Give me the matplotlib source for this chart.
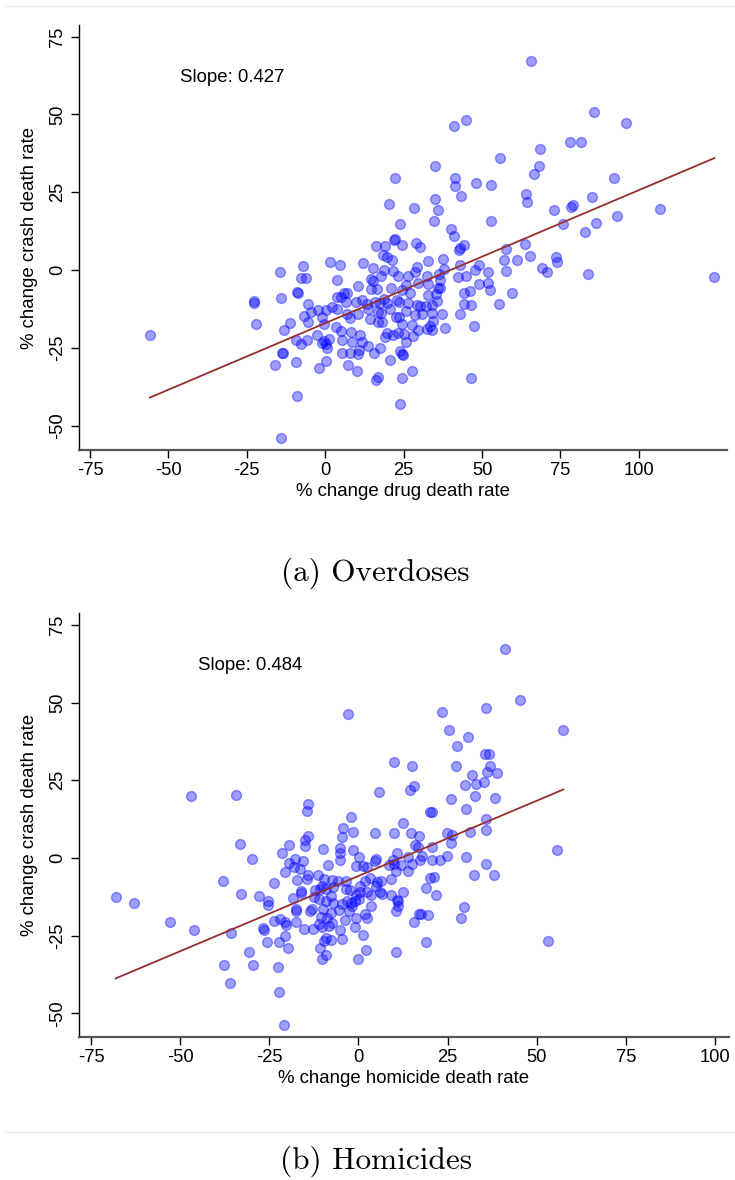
import numpy as np
import matplotlib
matplotlib.use("Agg")
from matplotlib import pyplot as plt
from matplotlib.lines import Line2D

# panel (a): % change drug death rate vs % change crash death rate
drug_x = [65.5, 85.6, 44.8, 41.1, 95.8, 78.0, 81.6, 68.4, 55.6, 68.1, 35.1, 66.7, 22.2, 41.5, 48.1, 53.0,
          41.5, 92.1, 43.3, 64.1, 64.4, 35.1, 85.2, 20.4, 28.2, 35.9, 73.0, 78.5, 78.9, 106.6, 93.1, 34.7,
          52.8, 23.9, 75.9, 86.4, 40.2, 41.0, 82.7, 21.9, 22.3, 28.9, 30.1, 16.3, 19.0, 24.5, 42.5, 43.0,
          44.2, 57.8, 63.6, 18.4, 19.8, 21.2, 32.8, 37.4, 12.1, 1.6, 4.8, -7.1, 43.1, 49.1, 56.9, 61.3,
          65.3, 73.5, 73.9, -14.5, 15.1, 18.8, 21.5, 29.3, 37.9, 47.6, 52.0, 57.5, 69.1, 70.7, 83.7, 124.1,
          -7.8, -6.2, 3.9, 14.5, 15.3, 17.7, 23.1, 26.3, 28.5, 32.3, 36.2, 42.2, 44.9, 49.1, 52.0, 25.8,
          29.6, 32.8, 36.6, 36.0, 10.3, 5.9, 6.9, 14.7, 16.4, 21.1, 24.5, 26.9, 32.9, 35.2, 36.6, 52.6,
          59.4, 44.1, 46.2, -9.0, -8.6, -14.2, 3.8, 5.0, 6.6, 9.7, 11.7, 13.3, 15.9, 17.6, 18.8, 19.8,
          22.8, 23.4, 26.3, 29.4, 30.1, 32.0, 34.0, 35.8, 44.4, 46.4, 55.4, -22.6, -22.6, -5.6, -4.4, -2.4,
          0.1, 2.3, 3.8, 7.0, 7.8, 10.5, 13.7, 16.7, 17.7, 20.8, 25.8, 28.5, 30.8, 33.9, 34.3, 37.1,
          43.0, -6.9, -5.5, -0.5, -1.1, 3.6, 5.0, 8.3, 11.0, 14.4, 16.8, 18.0, 22.7, 24.5, 23.5, 27.8,
          29.7, 32.3, 33.3, 34.0, 38.3, 47.3, -22.2, -11.3, -13.0, -2.7, 1.3, -0.3, -1.1, 0.4, 0.5, -7.8,
          -9.4, -5.8, 5.5, 8.7, 11.6, 13.7, 17.5, 19.0, 19.8, 21.5, 23.1, 25.0, 25.9, 28.1, 5.4, 7.9,
          10.5, 10.8, 15.6, 20.8, 23.9, 24.5, 24.7, -13.8, -13.6, -9.3, -16.1, -1.9, 0.3, 7.3, 10.1, 16.8,
          16.3, 24.5, 27.6, 46.4, -8.9, 23.8, -14.0, -55.9]
crash_a = [67.1, 50.7, 48.3, 46.3, 47.1, 41.0, 41.3, 39.0, 35.9, 33.5, 33.5, 31.0, 29.5, 29.7, 28.1, 27.2,
           26.9, 29.7, 23.8, 24.4, 22.0, 23.0, 23.5, 21.2, 20.0, 19.2, 19.2, 20.4, 21.0, 19.8, 17.4, 15.9,
           15.7, 14.8, 14.9, 15.3, 13.3, 11.0, 12.2, 9.7, 10.1, 8.6, 7.3, 7.9, 7.9, 8.0, 6.6, 7.0,
           8.0, 6.9, 8.4, 4.9, 4.3, 3.3, 2.9, 3.7, 2.2, 2.5, 1.6, 1.4, 1.8, 1.7, 3.4, 3.3,
           4.5, 4.1, 2.5, -0.5, 0.6, 0.1, -0.4, 0.9, 0.4, 0.0, -0.6, -0.3, 0.7, -0.5, -1.2, -2.2,
           -2.6, -2.4, -3.1, -2.7, -3.6, -2.0, -2.0, -1.9, -0.6, -1.8, -1.3, -2.1, -1.7, -4.3, -4.2, -4.7,
           -4.2, -4.3, -3.1, -5.8, -5.0, -7.4, -7.4, -6.1, -5.9, -5.6, -6.5, -7.4, -8.0, -7.6, -5.6, -6.5,
           -7.3, -7.4, -6.7, -6.9, -7.2, -8.8, -8.7, -8.7, -10.1, -10.3, -9.7, -10.9, -10.1, -10.6, -9.3, -10.6,
           -9.6, -10.1, -10.4, -11.2, -11.4, -11.6, -11.1, -10.0, -10.9, -11.1, -10.9, -10.0, -10.6, -11.0, -13.4, -12.7,
           -12.7, -11.7, -12.5, -14.2, -15.2, -14.1, -12.5, -13.4, -13.6, -12.4, -13.0, -14.5, -14.1, -13.8, -16.2, -14.1,
           -14.2, -14.7, -16.6, -17.2, -14.9, -18.3, -19.6, -19.7, -20.7, -15.7, -16.5, -16.7, -14.9, -17.2, -15.1, -17.6,
           -19.2, -18.9, -17.9, -19.2, -18.4, -17.9, -17.2, -16.8, -19.2, -20.7, -22.2, -22.6, -23.2, -23.7, -25.1, -23.7,
           -22.4, -22.4, -22.4, -23.0, -23.0, -24.2, -25.1, -21.5, -20.2, -20.8, -20.0, -20.6, -23.0, -21.1, -26.5, -26.7,
           -26.9, -25.5, -26.5, -28.9, -26.0, -27.0, -27.3, -26.5, -26.7, -29.5, -30.4, -31.3, -29.2, -30.4, -32.5, -34.4,
           -35.2, -34.5, -32.5, -34.7, -40.3, -43.0, -53.9, -20.7]
slope_a = 0.427
intercept_a = -17.0

# panel (b): % change homicide death rate vs % change crash death rate
homi_x = [41.2, 45.2, 23.3, 35.7, -2.8, 57.5, 25.3, 30.8, 27.7, 35.4, 36.6, 10.0, 15.1, 27.4, 37.0, 36.0,
          38.8, 31.9, 35.2, 30.0, 33.1, 15.7, 14.6, 5.7, -47.0, -34.4, 32.8, 26.1, 38.4, -14.2, -14.5, 20.1,
          20.7, 30.3, -2.0, 12.6, 35.9, -4.3, -1.5, 4.7, 10.0, 14.8, 24.8, 26.3, 31.3, 35.8, 17.1, -4.5,
          -14.2, -14.9, 26.1, -33.3, -19.5, -10.0, -15.0, 15.8, 16.6, 20.7, -1.5, -5.3, -5.2, 55.7, -21.5, -29.8,
          -17.8, -15.6, -5.3, 0.1, 5.0, 4.6, 10.9, 13.9, 9.7, 17.9, 20.7, 23.0, 24.8, 30.3, -8.5, -19.4,
          -16.5, -20.7, -18.1, -0.7, 1.4, 2.5, 8.5, 11.9, 10.0, 15.0, 17.4, 13.8, 10.4, 35.7, 32.3, 38.1,
          -38.1, -23.7, -11.3, -14.2, -14.4, -17.2, -9.6, -7.4, -5.7, -3.4, 1.8, 3.3, 5.1, 6.4, 9.0, 5.0,
          0.5, -10.2, -10.9, -9.0, -7.2, -12.3, -16.2, -16.2, -3.5, -2.5, 0.4, -0.8, 2.4, 3.5, 6.1, 6.5,
          9.1, 12.6, 20.1, 21.3, 18.9, 21.7, -32.9, -28.0, -18.4, -12.4, -11.2, -9.2, -7.0, -7.7, -4.5, -3.3,
          -2.2, -0.9, 0.1, -1.8, 3.4, 10.9, 11.1, 11.2, 10.4, 29.6, -25.4, -25.3, -17.6, -17.4, -13.6, -13.1,
          -10.0, -7.6, -5.5, -2.6, -0.8, 1.8, 2.5, -10.4, -8.7, -23.8, -22.0, -20.5, -20.2, -17.4, -15.3, -12.8,
          -11.0, -10.3, -8.3, -7.3, -5.2, -3.9, -1.1, 1.3, -7.8, -9.7, -9.2, -4.5, -20.7, -22.3, -19.7, -10.9,
          -10.2, -9.0, -0.2, 2.1, 10.4, 15.5, 17.1, 17.5, 19.6, 19.0, 28.8, 53.2, -68.1, -62.9, -52.9, -46.2,
          -35.7, -26.7, -26.4, -25.7, -30.7, -37.8, -29.5, -22.7, -36.0, -22.2, -20.9]
crash_b = [67.1, 50.7, 47.1, 48.3, 46.3, 41.3, 41.0, 39.0, 35.9, 33.5, 33.5, 30.8, 29.5, 29.7, 29.7, 27.8,
           27.3, 26.8, 24.3, 23.5, 23.7, 23.1, 22.0, 21.1, 20.0, 20.2, 19.8, 19.1, 19.2, 17.5, 15.1, 14.8,
           14.7, 15.6, 13.3, 11.1, 12.4, 9.7, 8.5, 8.0, 8.0, 8.0, 7.9, 7.5, 8.4, 9.0, 7.0, 6.6,
           7.2, 5.7, 4.9, 4.4, 4.3, 2.8, 4.0, 4.2, 3.5, 3.6, 2.6, 3.1, 1.5, 2.5, 1.7, -0.5,
           -0.2, -1.1, -0.7, 0.2, -0.5, -1.1, 1.7, 0.4, -0.6, 0.7, -0.7, -0.7, 0.5, 0.2, -2.4, -1.7,
           -3.6, -4.4, -2.8, -2.5, -2.6, -2.8, -2.2, -2.2, -2.0, -2.1, -0.7, -4.1, -4.1, -1.9, -5.5, -5.4,
           -7.3, -8.2, -5.5, -5.6, -6.9, -7.0, -6.9, -7.1, -7.3, -7.3, -7.3, -6.4, -7.6, -7.3, -6.7, -8.9,
           -8.9, -9.0, -9.9, -10.1, -9.4, -10.3, -10.5, -11.4, -10.0, -10.2, -10.8, -11.9, -10.9, -11.8, -10.9, -11.7,
           -11.8, -11.0, -6.5, -6.0, -9.7, -11.9, -11.5, -12.2, -12.9, -12.7, -13.3, -14.0, -14.4, -12.4, -14.8, -13.8,
           -14.6, -13.8, -13.3, -15.6, -15.4, -13.5, -14.0, -15.4, -17.2, -15.7, -14.0, -15.1, -16.5, -17.1, -17.0, -16.5,
           -16.4, -17.8, -16.7, -17.2, -19.2, -18.0, -19.2, -19.0, -19.4, -20.4, -19.8, -20.7, -21.5, -20.5, -22.7, -23.0,
           -21.4, -22.3, -21.9, -20.8, -23.2, -20.0, -22.2, -24.7, -26.3, -26.6, -25.9, -26.2, -25.0, -27.0, -29.0, -29.1,
           -32.5, -31.3, -32.5, -29.5, -30.4, -20.5, -18.0, -18.0, -18.2, -27.2, -19.3, -26.6, -12.7, -14.6, -20.7, -23.1,
           -24.3, -22.4, -23.1, -26.9, -30.4, -34.5, -34.6, -35.2, -40.2, -43.0, -53.9]
slope_b = 0.484
intercept_b = -5.8

x_ticks = [-75, -50, -25, 0, 25, 50, 75, 100]
y_ticks = [-50, -25, 0, 25, 50, 75]

plt.rcParams['font.family'] = ['Liberation Sans', 'DejaVu Sans']
plt.rcParams['axes.unicode_minus'] = False

fig = plt.figure(figsize=(7.35, 11.8), dpi=100)
W, H = 735.0, 1180.0


def panel(rect, x, y, slope, intercept, xlim, xlabel, slope_pos):
    ax = fig.add_axes(rect)
    x = np.array(x)
    y = np.array(y)
    ax.scatter(x, y, s=50, facecolor=(0, 0, 1, 0.38), edgecolor=(0, 0, 1, 0.4),
               linewidth=1.0, zorder=3)
    xs = np.array([x.min(), x.max()])
    ax.plot(xs, intercept + slope * xs, color='#952f2f', lw=1.3, zorder=4)
    ax.set_xlim(xlim)
    ax.set_ylim(-57.7, 78.7)
    ax.set_xticks(x_ticks)
    ax.set_yticks(y_ticks)
    ax.set_yticklabels([str(t) for t in y_ticks], rotation=90, va='center')
    ax.tick_params(axis='both', direction='out', length=5.5, width=1.0,
                   labelsize=13.2, color='black')
    ax.tick_params(axis='x', pad=3)
    ax.tick_params(axis='y', pad=4)
    for s in ['top', 'right']:
        ax.spines[s].set_visible(False)
    ax.spines['left'].set_linewidth(1.0)
    ax.spines['bottom'].set_linewidth(1.6)
    ax.spines['bottom'].set_color('#555555')
    ax.set_xlabel(xlabel, fontsize=13.4, labelpad=3)
    ax.set_ylabel('% change crash death rate', fontsize=13.4, labelpad=8)
    ax.text(slope_pos[0], slope_pos[1], 'Slope: %.3f' % slope, fontsize=13.4,
            ha='left', va='center')
    return ax


panel([79.3 / W, 1 - 450 / H, (727 - 79.3) / W, (450 - 25) / H],
      drug_x, crash_a, slope_a, intercept_a, (-78.4, 128.1),
      '% change drug death rate', (-46.3, 61.7))
panel([79.3 / W, 1 - 1037.3 / H, (728.5 - 79.3) / W, (1037.3 - 613.3) / H],
      homi_x, crash_b, slope_b, intercept_b, (-78.3, 103.8),
      '% change homicide death rate', (-45.0, 61.8))

fig.text(375 / W, 1 - 573 / H, '(a) Overdoses', family='cmr10', fontsize=22.5,
         ha='center', va='center')
fig.text(376 / W, 1 - 1161 / H, '(b) Homicides', family='cmr10', fontsize=22.5,
         ha='center', va='center')

# faint page rules
fig.add_artist(Line2D([5 / W, 1], [1 - 6 / H, 1 - 6 / H], color='#e6eef0', lw=1.0))
fig.add_artist(Line2D([5 / W, 1], [1 - 1132 / H, 1 - 1132 / H], color='#e6eef0', lw=1.0))

fig.savefig('out.png', dpi=100)
